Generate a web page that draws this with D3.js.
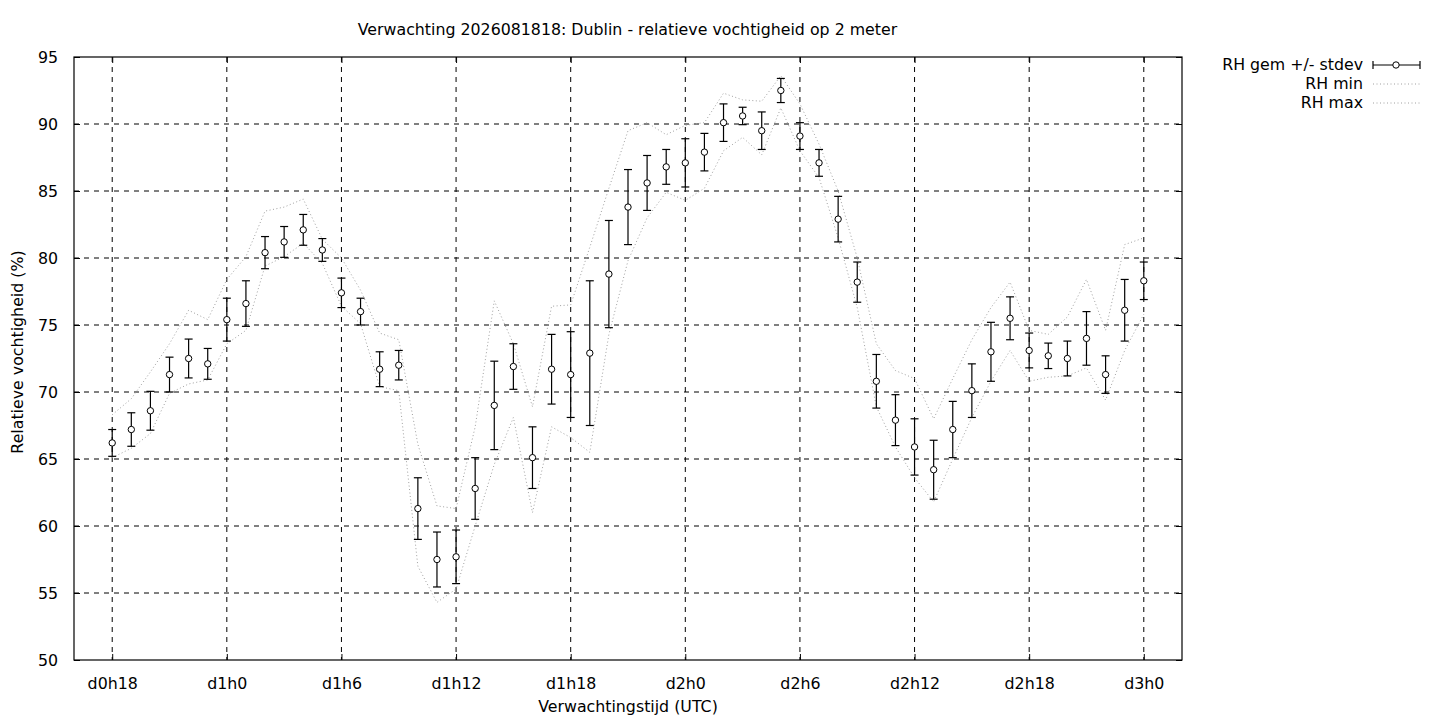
<!DOCTYPE html>
<html>
<head>
<meta charset="utf-8">
<script src="https://cdn.jsdelivr.net/npm/d3@7"></script>
<style>
  body { margin: 0; background: #fff; }
  svg text { font-family: "DejaVu Sans", sans-serif; fill: #000; }
</style>
</head>
<body>
<div id="chart"></div>
<script>
// Forecast hours (hours since d0h0)
const hours = [18, 19, 20, 21, 22, 23, 24, 25, 26, 27, 28, 29, 30, 31, 32, 33,
  34, 35, 36, 37, 38, 39, 40, 41, 42, 43,
  44, 45, 46, 47, 48, 49, 50, 51, 52, 53, 54,
  55, 56, 57, 58, 59, 60, 61, 62, 63,
  64, 65, 66, 67, 68, 69, 70, 71, 72];

// RH mean and stdev
const rhMean = [66.2, 67.2, 68.6, 71.3, 72.5, 72.1, 75.4, 76.6, 80.4, 81.2, 82.1, 80.6, 77.4, 76.0, 71.7, 72.0,
  61.3, 57.5, 57.7, 62.8, 69.0, 71.9, 65.1, 71.7, 71.3, 72.9,
  78.8, 83.8, 85.6, 86.8, 87.1, 87.9, 90.1, 90.6, 89.5, 92.5, 89.1,
  87.1, 82.9, 78.2, 70.8, 67.9, 65.9, 64.2, 67.2, 70.1,
  73.0, 75.5, 73.1, 72.7, 72.5, 74.0, 71.3, 76.1, 78.3];
const rhStdev = [1.0, 1.25, 1.45, 1.3, 1.45, 1.15, 1.6, 1.7, 1.2, 1.15, 1.15, 0.85, 1.1, 1.0, 1.3, 1.1,
  2.3, 2.05, 2.0, 2.3, 3.3, 1.7, 2.3, 2.6, 3.2, 5.4,
  4.0, 2.8, 2.05, 1.3, 1.8, 1.4, 1.4, 0.65, 1.4, 0.9, 1.0,
  1.0, 1.7, 1.5, 2.0, 1.9, 2.1, 2.2, 2.1, 2.0,
  2.2, 1.6, 1.3, 0.95, 1.3, 2.0, 1.4, 2.3, 1.4];

// RH min / max over the ensemble
const rhMin = [65.1, 65.8, 66.9, 69.9, 70.6, 70.9, 73.6, 74.6, 79.4, 80.1, 81.1, 79.6, 76.4, 75.1, 70.4, 70.1,
  57.0, 54.3, 55.3, 60.0, 64.6, 68.1, 61.0, 67.4, 66.6, 65.5,
  74.3, 79.8, 83.0, 84.9, 84.3, 85.2, 88.0, 89.0, 87.7, 91.2, 88.0,
  86.0, 81.5, 76.3, 68.9, 65.9, 63.6, 61.8, 65.0, 68.1,
  70.8, 73.1, 70.8, 71.1, 71.2, 71.8, 69.4, 73.1, 75.8];
const rhMax = [68.3, 69.5, 71.5, 73.6, 76.1, 75.4, 78.4, 80.1, 83.5, 83.8, 84.4, 81.4, 80.0, 77.6, 74.4, 73.9,
  66.1, 61.5, 61.3, 67.4, 76.8, 73.6, 68.9, 76.4, 76.5, 80.8,
  85.2, 89.5, 90.1, 89.2, 89.9, 90.1, 92.3, 91.8, 91.7, 93.6, 91.5,
  88.5, 85.0, 80.0, 73.6, 71.6, 71.0, 68.0, 71.0, 73.9,
  76.3, 78.2, 74.6, 74.3, 75.6, 78.4, 74.6, 81.0, 81.5];

// Axis ticks
const xTicks = [18, 24, 30, 36, 42, 48, 54, 60, 66, 72];
const xTickLabels = ["d0h18", "d1h0", "d1h6", "d1h12", "d1h18", "d2h0", "d2h6", "d2h12", "d2h18", "d3h0"];
const yTicks = [50, 55, 60, 65, 70, 75, 80, 85, 90, 95];

const WIDTH = 1440, HEIGHT = 720;
const plotLeft = 74, plotRight = 1182, plotTop = 57, plotBottom = 660;
const FONT = 15.8;

const svg = d3.select("#chart").append("svg")
  .attr("width", WIDTH)
  .attr("height", HEIGHT);

const xScale = d3.scaleLinear().domain([16, 74]).range([plotLeft, plotRight]);
const yScale = d3.scaleLinear().domain([50, 95]).range([plotBottom, plotTop]);

const data = hours.map((h, i) => ({
  h: h, mean: rhMean[i], sd: rhStdev[i], min: rhMin[i], max: rhMax[i]
}));

// grid
const grid = svg.append("g").attr("class", "grid");
grid.selectAll("line.gx")
  .data(xTicks)
  .enter().append("line")
  .attr("x1", d => xScale(d)).attr("x2", d => xScale(d))
  .attr("y1", plotTop).attr("y2", plotBottom)
  .attr("stroke", "#000").attr("stroke-width", 1)
  .attr("stroke-dasharray", "5,5");
grid.selectAll("line.gy")
  .data(yTicks.slice(1, -1))
  .enter().append("line")
  .attr("x1", plotLeft).attr("x2", plotRight)
  .attr("y1", d => yScale(d)).attr("y2", d => yScale(d))
  .attr("stroke", "#000").attr("stroke-width", 1)
  .attr("stroke-dasharray", "5,5");

// axes (inward ticks, mirrored)
const labelsX = d3.scaleOrdinal().domain(xTicks).range(xTickLabels);
svg.append("g")
  .attr("transform", `translate(0,${plotBottom})`)
  .call(d3.axisBottom(xScale).tickValues(xTicks).tickSize(-6).tickPadding(18)
    .tickFormat(d => labelsX(d)))
  .call(g => g.select(".domain").remove());
svg.append("g")
  .attr("transform", `translate(0,${plotTop})`)
  .call(d3.axisTop(xScale).tickValues(xTicks).tickSize(-6).tickFormat(""))
  .call(g => g.select(".domain").remove());
svg.append("g")
  .attr("transform", `translate(${plotLeft},0)`)
  .call(d3.axisLeft(yScale).tickValues(yTicks).tickSize(-6).tickPadding(16))
  .call(g => g.select(".domain").remove());
svg.append("g")
  .attr("transform", `translate(${plotRight},0)`)
  .call(d3.axisRight(yScale).tickValues(yTicks).tickSize(-6).tickFormat(""))
  .call(g => g.select(".domain").remove());

svg.selectAll(".tick text").attr("font-size", FONT).attr("font-family", "DejaVu Sans");
svg.selectAll(".tick line").attr("stroke", "#000");

// border
svg.append("rect")
  .attr("x", plotLeft).attr("y", plotTop)
  .attr("width", plotRight - plotLeft).attr("height", plotBottom - plotTop)
  .attr("fill", "none").attr("stroke", "#000").attr("stroke-width", 1.2);

// min / max dotted lines
const lineMin = d3.line().x(d => xScale(d.h)).y(d => yScale(d.min));
const lineMax = d3.line().x(d => xScale(d.h)).y(d => yScale(d.max));
[lineMin, lineMax].forEach(gen => {
  svg.append("path")
    .datum(data)
    .attr("d", gen)
    .attr("fill", "none")
    .attr("stroke", "#a0a0a0")
    .attr("stroke-width", 1)
    .attr("stroke-dasharray", "1,2.5");
});

// error bars
const bars = svg.append("g").attr("class", "errorbars");
const capW = 4;
data.forEach(d => {
  const x = xScale(d.h), y1 = yScale(d.mean - d.sd), y2 = yScale(d.mean + d.sd);
  bars.append("line").attr("x1", x).attr("x2", x).attr("y1", y1).attr("y2", y2)
    .attr("stroke", "#000").attr("stroke-width", 1.2);
  bars.append("line").attr("x1", x - capW).attr("x2", x + capW).attr("y1", y1).attr("y2", y1)
    .attr("stroke", "#000").attr("stroke-width", 1.2);
  bars.append("line").attr("x1", x - capW).attr("x2", x + capW).attr("y1", y2).attr("y2", y2)
    .attr("stroke", "#000").attr("stroke-width", 1.2);
});
svg.selectAll("circle.pt")
  .data(data)
  .enter().append("circle")
  .attr("class", "pt")
  .attr("cx", d => xScale(d.h))
  .attr("cy", d => yScale(d.mean))
  .attr("r", 3.2)
  .attr("fill", "#fff")
  .attr("stroke", "#000")
  .attr("stroke-width", 1);

// titles
svg.append("text")
  .attr("x", (plotLeft + plotRight) / 2 - 0.5).attr("y", 35)
  .attr("text-anchor", "middle").attr("font-size", FONT)
  .text("Verwachting 2026081818: Dublin - relatieve vochtigheid op 2 meter");
svg.append("text")
  .attr("x", (plotLeft + plotRight) / 2).attr("y", 712)
  .attr("text-anchor", "middle").attr("font-size", FONT)
  .text("Verwachtingstijd (UTC)");
svg.append("text")
  .attr("transform", `translate(23,352) rotate(-90)`)
  .attr("text-anchor", "middle").attr("font-size", FONT)
  .text("Relatieve vochtigheid (%)");

// legend
const legend = svg.append("g").attr("class", "legend");
const legX = 1363, legY = 65, legStep = 19;
legend.append("text").attr("x", legX).attr("y", legY + 5)
  .attr("text-anchor", "end").attr("font-size", FONT).text("RH gem +/- stdev");
legend.append("line").attr("x1", 1373).attr("x2", 1420).attr("y1", legY).attr("y2", legY)
  .attr("stroke", "#000").attr("stroke-width", 1.2);
[1373, 1420].forEach(x => legend.append("line")
  .attr("x1", x).attr("x2", x).attr("y1", legY - capW).attr("y2", legY + capW)
  .attr("stroke", "#000").attr("stroke-width", 1.2));
legend.append("circle").attr("cx", 1396).attr("cy", legY).attr("r", 3.2)
  .attr("fill", "#fff").attr("stroke", "#000");
["RH min", "RH max"].forEach((name, i) => {
  const y = legY + legStep * (i + 1);
  legend.append("text").attr("x", legX).attr("y", y + 5)
    .attr("text-anchor", "end").attr("font-size", FONT).text(name);
  legend.append("line").attr("x1", 1373).attr("x2", 1420).attr("y1", y).attr("y2", y)
    .attr("stroke", "#a0a0a0").attr("stroke-width", 1).attr("stroke-dasharray", "1,2.5");
});
</script>
</body>
</html>
